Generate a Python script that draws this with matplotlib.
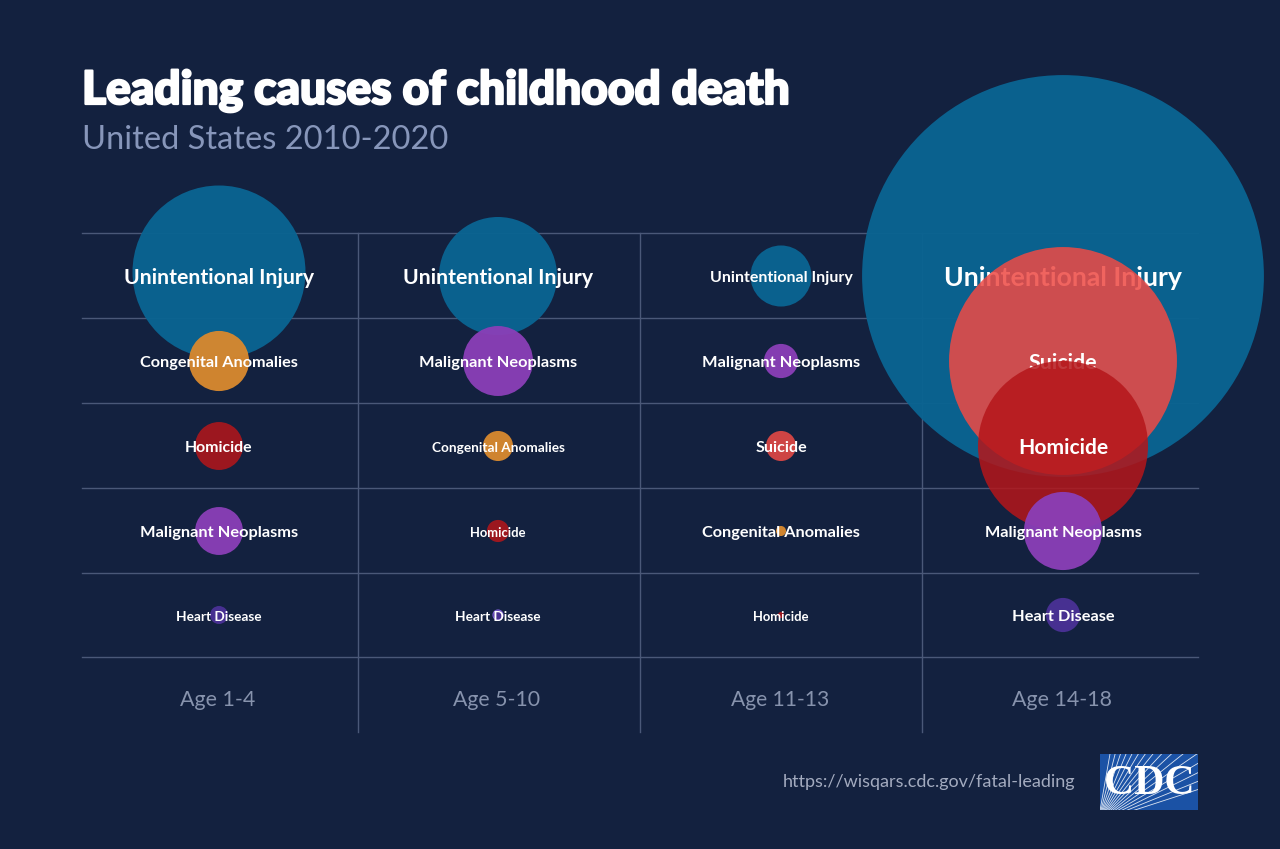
import numpy as np
import matplotlib
matplotlib.use("Agg")
import matplotlib.pyplot as plt
from matplotlib.patches import Circle, Rectangle
import matplotlib.patheffects as pe

# ---------------- data ----------------
age_groups = ["Age 1-4", "Age 5-10", "Age 11-13", "Age 14-18"]
causes = [
    ["Unintentional Injury", "Congenital Anomalies", "Homicide", "Malignant Neoplasms", "Heart Disease"],
    ["Unintentional Injury", "Malignant Neoplasms", "Congenital Anomalies", "Homicide", "Heart Disease"],
    ["Unintentional Injury", "Malignant Neoplasms", "Suicide", "Congenital Anomalies", "Homicide"],
    ["Unintentional Injury", "Suicide", "Homicide", "Malignant Neoplasms", "Heart Disease"],
]
# estimated relative death counts
deaths = [
    [7950, 960, 610, 610, 86],
    [3700, 1300, 240, 130, 27],
    [990, 310, 240, 27, 10],
    [42900, 13800, 7680, 1620, 310],
]
title = "Leading causes of childhood death"
subtitle = "United States 2010-2020"
source = "https://wisqars.cdc.gov/fatal-leading"

# ---------------- style ----------------
BG = "#13213f"
GRID = "#4a5878"
cause_colors = {
    "Unintentional Injury": ("#0a6492", 0.96),
    "Congenital Anomalies": ("#d6882f", 0.97),
    "Homicide": ("#b5161a", 0.85),
    "Malignant Neoplasms": ("#8b3fb8", 0.95),
    "Heart Disease": ("#4b3196", 0.95),
    "Suicide": ("#ee4a45", 0.86),
}
# label widths in px (style)
label_w = [
    [191, 158, 68, 158, 86],
    [191, 158, 132, 56, 86],
    [143, 158, 52, 158, 56],
    [239, 69, 90, 157, 103],
]
age_w = [75, 87, 98, 100]
col_x = [219, 498, 781, 1063]
row_y = [276, 361, 446, 531, 615]
r_scale = 0.97
FONT = "Lato"

fig = plt.figure(figsize=(12.8, 8.49), dpi=100, facecolor=BG)
ax = fig.add_axes([0, 0, 1, 1])
ax.set_xlim(0, 1280)
ax.set_ylim(849, 0)
ax.set_facecolor(BG)
ax.axis("off")
renderer = fig.canvas.get_renderer()


def fit_text(x, y, s, width_px, **kw):
    t = ax.text(x, y, s, fontsize=10, **kw)
    w = t.get_window_extent(renderer=renderer).width
    t.set_fontsize(10 * width_px / w)
    return t


# grid lines
hy = [233, 318, 403, 488, 573, 657]
for y in hy:
    ax.plot([82, 1198], [y, y], color=GRID, lw=1.0, zorder=1)
for x in [358, 640, 922]:
    ax.plot([x, x], [233, 732], color=GRID, lw=1.0, zorder=1)

# bubbles + labels, row by row
z = 2
for r in range(5):
    for c in range(4):
        cause = causes[c][r]
        col, a = cause_colors[cause]
        rad = np.sqrt(deaths[c][r]) * r_scale
        cy = row_y[r] - (4 if (c == 0 and r == 0) else 0)
        ec = "#7d5fd6" if (cause == "Heart Disease" and c == 1) else "none"
        ax.add_patch(Circle((col_x[c], cy), rad, facecolor=col, alpha=a,
                            edgecolor=ec, lw=0.8, zorder=z))
        fit_text(col_x[c], row_y[r] + 2, cause, label_w[c][r], color="white",
                 family=FONT, fontweight="bold", ha="center", va="center",
                 zorder=z + 0.5)
        z += 1

# age labels
for c in range(4):
    fit_text(col_x[c] - 1, 700, age_groups[c], age_w[c],
             color="#8793ad", family=FONT, ha="center", va="center", zorder=50)

# titles
tt = fit_text(82, 104, title, 706, color="white", family=FONT, fontweight="black",
              ha="left", va="baseline", zorder=60)
tt.set_path_effects([pe.withStroke(linewidth=1.6, foreground="white")])
fit_text(82, 149, subtitle, 366, color="#8796ba", family=FONT, fontweight="normal",
         ha="left", va="baseline", zorder=60)

# source
fit_text(1075, 782, source, 293, color="#a3abbf", family=FONT, ha="right",
         va="center", zorder=60)

# CDC logo
rect = Rectangle((1100, 754), 98, 56, facecolor="#1b52a5", edgecolor="none", zorder=60)
ax.add_patch(rect)
fx, fy = 1098, 822
for ang in np.linspace(80, 18, 16):
    t = np.radians(ang)
    L = 200
    ln, = ax.plot([fx, fx + L * np.cos(t)], [fy, fy - L * np.sin(t)],
                  color="white", lw=0.6, alpha=0.85, zorder=61)
    ln.set_clip_path(rect)
fit_text(1149, 784, "CDC", 90, color="white", family=["Liberation Serif", "DejaVu Serif"],
         fontweight="bold", ha="center", va="center", zorder=62)

fig.savefig("out.png", dpi=100, facecolor=BG)
